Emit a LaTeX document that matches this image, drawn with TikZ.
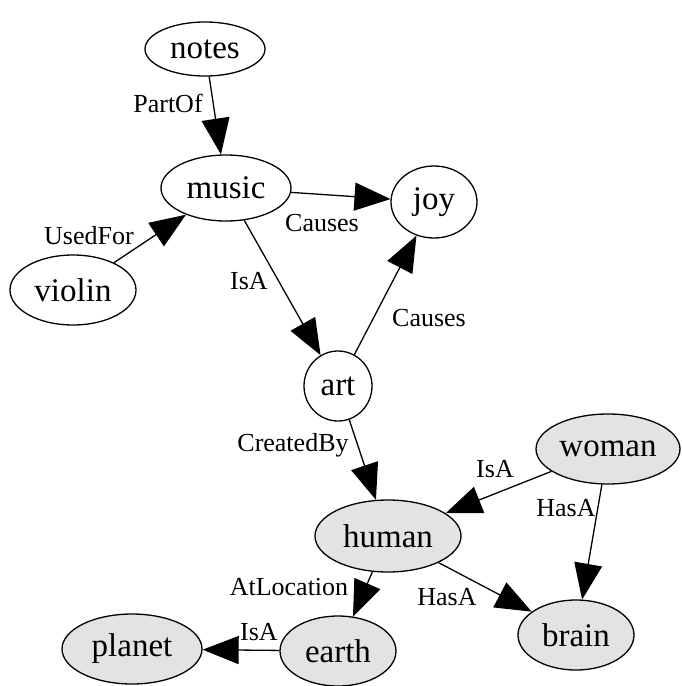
\documentclass[tikz,border=0pt]{standalone}
\usepackage{fontspec}
\setmainfont{Liberation Serif}
\usetikzlibrary{shapes.geometric,arrows.meta}
\definecolor{nodegray}{HTML}{E3E3E3}
\tikzset{
  gnode/.style={ellipse,draw=black,line width=1.3pt,inner sep=0pt,
    font=\fontsize{33}{36}\selectfont},
  filled/.style={fill=nodegray},
  edge/.style={line width=1.3pt,-{Triangle[length=36pt,width=28pt]}},
  elabel/.style={font=\fontsize{26}{29}\selectfont,inner sep=0pt}
}
\begin{document}
\begin{tikzpicture}[x=1pt,y=-1pt]
\useasboundingbox (0,0) rectangle (682,686);
% nodes
\node[gnode,minimum width=120pt,minimum height=54pt] (notes) at (205,49) {notes};
\node[gnode,minimum width=130pt,minimum height=66pt] (music) at (226,188) {music};
\node[gnode,minimum width=126pt,minimum height=70pt] (violin) at (73,290) {violin};
\node[gnode,minimum width=86pt,minimum height=72pt] (joy) at (434,202) {joy};
\node[gnode,minimum width=68pt,minimum height=70pt] (art) at (338,386) {art};
\node[gnode,filled,minimum width=144pt,minimum height=70pt] (woman) at (608,449) {woman};
\node[gnode,filled,minimum width=146pt,minimum height=72pt] (human) at (388,536) {human};
\node[gnode,filled,minimum width=116pt,minimum height=70pt] (brain) at (576,635) {brain};
\node[gnode,filled,minimum width=116pt,minimum height=70pt] (earth) at (338,651) {earth};
\node[gnode,filled,minimum width=140pt,minimum height=70pt] (planet) at (132,649) {planet};
% edges
\draw[edge] (notes) -- (music);
\draw[edge] (violin) -- (music);
\draw[edge] (music) -- (joy);
\draw[edge] (music) -- (art);
\draw[edge] (art) -- (joy);
\draw[edge] (art) -- (human);
\draw[edge] (woman) -- (human);
\draw[edge] (woman) -- (brain);
\draw[edge] (human) -- (brain);
\draw[edge] (human) -- (earth);
\draw[edge] (earth) -- (planet);
% labels
\node[elabel] (l1) at (168,103) {PartOf};
\node[elabel] (l2) at (89,236) {UsedFor};
\node[elabel] (l3) at (322,223) {Causes};
\node[elabel] (l4) at (249,281) {IsA};
\node[elabel] (l5) at (429,318) {Causes};
\node[elabel] (l6) at (293,445) {CreatedBy};
\node[elabel] (l7) at (495,469) {IsA};
\node[elabel] (l8) at (566,508) {HasA};
\node[elabel] (l9) at (447,597) {HasA};
\node[elabel] (l10) at (289,587) {AtLocation};
\node[elabel] (l11) at (259,632) {IsA};
\end{tikzpicture}
\end{document}
